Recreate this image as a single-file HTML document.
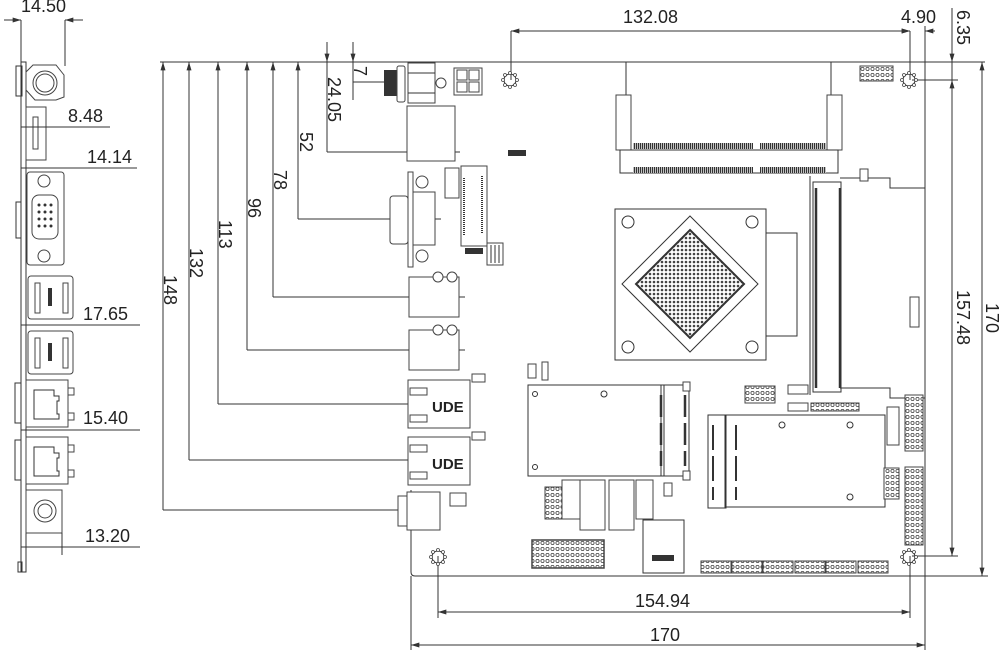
<!DOCTYPE html>
<html><head><meta charset="utf-8"><style>
html,body{margin:0;padding:0;background:#fff;}
svg{display:block;font-family:"Liberation Sans",sans-serif;}
.d{stroke:#333;stroke-width:1;fill:none}
.t{font-size:18px;fill:#222}
.c{stroke:#444;stroke-width:1;fill:#fff}
.k{fill:#333}
</style></head><body>
<svg width="999" height="652" viewBox="0 0 999 652" xmlns="http://www.w3.org/2000/svg">
<defs>
<marker id="a" viewBox="0 0 10 6" refX="10" refY="3" markerWidth="9" markerHeight="5" orient="auto-start-reverse"><path d="M0,0L10,3L0,6z" fill="#333"/></marker>
<pattern id="bga" width="4" height="4" patternUnits="userSpaceOnUse"><rect width="4" height="4" fill="#fff"/><circle cx="2" cy="2" r="1.3" fill="#444"/></pattern>
<pattern id="rail" width="2" height="6" patternUnits="userSpaceOnUse"><rect width="2" height="6" fill="#fff"/><rect width="1.3" height="6" fill="#333"/></pattern>
<pattern id="pins" width="5" height="6" patternUnits="userSpaceOnUse"><rect width="5" height="6" fill="#fff"/><circle cx="2.5" cy="3" r="1.6" fill="none" stroke="#444" stroke-width="0.8"/></pattern>
</defs>

<!-- ===== LEFT SIDE VIEW ===== -->
<rect x="21" y="62" width="5" height="510" class="d"/>
<rect x="18" y="562" width="4" height="10" class="d"/>
<line x1="21" y1="20" x2="21" y2="62" class="d"/><line x1="65" y1="20" x2="65" y2="66" class="d"/>
<line x1="4" y1="20" x2="21" y2="20" class="d" marker-end="url(#a)"/><line x1="83" y1="20" x2="65" y2="20" class="d" marker-end="url(#a)"/>
<text x="21" y="12" class="t">14.50</text>
<rect x="16" y="66" width="6" height="30" class="d"/>
<polygon points="33,65 56,65 64,75 64,97 56,100 35,100 26,90 26,72" class="c"/>
<circle cx="45" cy="83" r="12" class="c"/><circle cx="45" cy="83" r="9" class="c"/>
<rect x="26" y="107" width="20" height="53" class="c"/>
<rect x="33" y="117" width="5" height="32" class="c"/>
<line x1="21" y1="127" x2="110" y2="127" class="d"/>
<text x="68" y="122" class="t">8.48</text>
<line x1="21" y1="168" x2="137" y2="168" class="d"/>
<text x="87" y="163" class="t">14.14</text>
<rect x="27" y="172" width="37" height="93" rx="3" class="c"/>
<circle cx="44" cy="181" r="6" class="c"/><circle cx="44" cy="256" r="6" class="c"/>
<rect x="32" y="195" width="26" height="44" rx="7" class="c"/>
<g class="k"><circle cx="39" cy="205" r="1.5"/><circle cx="45" cy="205" r="1.5"/><circle cx="51" cy="205" r="1.5"/><circle cx="39" cy="212" r="1.5"/><circle cx="45" cy="212" r="1.5"/><circle cx="51" cy="212" r="1.5"/><circle cx="39" cy="219" r="1.5"/><circle cx="45" cy="219" r="1.5"/><circle cx="51" cy="219" r="1.5"/><circle cx="39" cy="226" r="1.5"/><circle cx="45" cy="226" r="1.5"/><circle cx="51" cy="226" r="1.5"/></g>
<rect x="16" y="202" width="5" height="36" class="d"/>
<rect x="28" y="276" width="45" height="43" rx="3" class="c" stroke-width="2"/>
<rect x="35" y="283" width="5" height="30" class="c"/><rect x="63" y="283" width="5" height="30" class="c"/>
<rect x="48" y="288" width="4" height="18" class="k"/>
<rect x="28" y="331" width="45" height="43" rx="3" class="c" stroke-width="2"/>
<rect x="35" y="338" width="5" height="30" class="c"/><rect x="63" y="338" width="5" height="30" class="c"/>
<rect x="48" y="343" width="4" height="18" class="k"/>
<line x1="21" y1="325" x2="140" y2="325" class="d"/>
<text x="83" y="320" class="t">17.65</text>
<rect x="26" y="380" width="42" height="47" class="c"/>
<path d="M34,390h20v6h5v5h-2v13h2v5h-25z" class="d"/>
<rect x="68" y="388" width="6" height="7" class="c"/><rect x="68" y="413" width="6" height="7" class="c"/>
<rect x="15" y="383" width="6" height="40" class="d"/>
<line x1="21" y1="430" x2="140" y2="430" class="d"/>
<text x="83" y="424" class="t">15.40</text>
<rect x="26" y="437" width="42" height="47" class="c"/>
<path d="M34,447h20v6h5v5h-2v13h2v5h-25z" class="d"/>
<rect x="68" y="445" width="6" height="7" class="c"/><rect x="68" y="470" width="6" height="7" class="c"/>
<rect x="15" y="440" width="6" height="40" class="d"/>
<rect x="26" y="490" width="36" height="43" class="c"/>
<circle cx="45" cy="511" r="11" class="c"/><circle cx="45" cy="511" r="7" class="c"/>
<line x1="62" y1="533" x2="62" y2="555" class="d"/>
<line x1="21" y1="547" x2="140" y2="547" class="d"/>
<text x="85" y="542" class="t">13.20</text>

<!-- ===== LEFT VERTICAL DIMENSIONS ===== -->
<line x1="160" y1="62" x2="411" y2="62" class="d"/>
<line x1="163" y1="510" x2="163" y2="62" class="d" marker-end="url(#a)"/><line x1="163" y1="510" x2="405" y2="510" class="d"/>
<line x1="189" y1="460" x2="189" y2="62" class="d" marker-end="url(#a)"/><line x1="189" y1="460" x2="465" y2="460" class="d"/>
<line x1="218" y1="404" x2="218" y2="62" class="d" marker-end="url(#a)"/><line x1="218" y1="404" x2="465" y2="404" class="d"/>
<line x1="247" y1="350" x2="247" y2="62" class="d" marker-end="url(#a)"/><line x1="247" y1="350" x2="465" y2="350" class="d"/>
<line x1="273" y1="297" x2="273" y2="62" class="d" marker-end="url(#a)"/><line x1="273" y1="297" x2="465" y2="297" class="d"/>
<line x1="298" y1="219" x2="298" y2="62" class="d" marker-end="url(#a)"/><line x1="298" y1="219" x2="441" y2="219" class="d"/>
<line x1="327" y1="42" x2="327" y2="152" class="d"/><line x1="327" y1="152" x2="460" y2="152" class="d"/>
<line x1="327" y1="45" x2="327" y2="62" class="d" marker-end="url(#a)"/>
<line x1="353" y1="42" x2="353" y2="100" class="d"/><line x1="353" y1="82" x2="400" y2="82" class="d"/>
<line x1="353" y1="45" x2="353" y2="62" class="d" marker-end="url(#a)"/>
<g class="t">
<text transform="translate(164,275) rotate(90)">148</text>
<text transform="translate(190,248) rotate(90)">132</text>
<text transform="translate(219,220) rotate(90)">113</text>
<text transform="translate(248,198) rotate(90)">96</text>
<text transform="translate(274,170) rotate(90)">78</text>
<text transform="translate(300,132) rotate(90)">52</text>
<text transform="translate(328,77) rotate(90)">24.05</text>
<text transform="translate(354,66) rotate(90)">7</text>
</g>

<!-- ===== BOARD ===== -->
<path d="M411,490 V572 Q411,576 415,576 H925 V62 H411" class="d"/>
<line x1="511" y1="31" x2="511" y2="80" class="d"/>
<line x1="511" y1="31" x2="910" y2="31" class="d" marker-start="url(#a)" marker-end="url(#a)"/>
<text x="623" y="23" class="t">132.08</text>
<line x1="910" y1="31" x2="910" y2="80" class="d"/><line x1="925" y1="26" x2="925" y2="62" class="d"/>
<line x1="898" y1="31" x2="910" y2="31" class="d" marker-end="url(#a)"/><line x1="935" y1="31" x2="925" y2="31" class="d" marker-end="url(#a)"/>
<text x="901" y="23" class="t">4.90</text>
<line x1="925" y1="62" x2="985" y2="62" class="d"/>
<line x1="952" y1="8" x2="952" y2="556" class="d"/>
<line x1="952" y1="45" x2="952" y2="62" class="d" marker-end="url(#a)"/>
<line x1="952" y1="95" x2="952" y2="80" class="d" marker-end="url(#a)"/>
<line x1="912" y1="80" x2="958" y2="80" class="d"/>
<line x1="952" y1="540" x2="952" y2="556" class="d" marker-end="url(#a)"/>
<line x1="912" y1="556" x2="958" y2="556" class="d"/>
<text transform="translate(957,10) rotate(90)" class="t">6.35</text>
<text transform="translate(957,290) rotate(90)" class="t">157.48</text>
<line x1="982" y1="62" x2="982" y2="576" class="d" marker-start="url(#a)" marker-end="url(#a)"/>
<line x1="925" y1="576" x2="988" y2="576" class="d"/>
<text transform="translate(986,303) rotate(90)" class="t">170</text>
<line x1="438" y1="556" x2="438" y2="618" class="d"/><line x1="910" y1="556" x2="910" y2="618" class="d"/>
<line x1="438" y1="612" x2="910" y2="612" class="d" marker-start="url(#a)" marker-end="url(#a)"/>
<text x="635" y="607" class="t">154.94</text>
<line x1="411" y1="576" x2="411" y2="650" class="d"/><line x1="925" y1="576" x2="925" y2="650" class="d"/>
<line x1="411" y1="645" x2="925" y2="645" class="d" marker-start="url(#a)" marker-end="url(#a)"/>
<text x="650" y="641" class="t">170</text>

<g class="d">
<circle cx="510" cy="80" r="6"/><circle cx="909" cy="80" r="6"/><circle cx="438" cy="557" r="6"/><circle cx="909" cy="557" r="6"/>
</g>
<g fill="#fff" stroke="#444" stroke-width="0.8">
<circle cx="510" cy="73" r="1.5"/><circle cx="510" cy="87" r="1.5"/><circle cx="503" cy="80" r="1.5"/><circle cx="517" cy="80" r="1.5"/><circle cx="505" cy="75" r="1.5"/><circle cx="515" cy="75" r="1.5"/><circle cx="505" cy="85" r="1.5"/><circle cx="515" cy="85" r="1.5"/>
<circle cx="909" cy="73" r="1.5"/><circle cx="909" cy="87" r="1.5"/><circle cx="902" cy="80" r="1.5"/><circle cx="916" cy="80" r="1.5"/><circle cx="904" cy="75" r="1.5"/><circle cx="914" cy="75" r="1.5"/><circle cx="904" cy="85" r="1.5"/><circle cx="914" cy="85" r="1.5"/>
<circle cx="438" cy="550" r="1.5"/><circle cx="438" cy="564" r="1.5"/><circle cx="431" cy="557" r="1.5"/><circle cx="445" cy="557" r="1.5"/><circle cx="433" cy="552" r="1.5"/><circle cx="443" cy="552" r="1.5"/><circle cx="433" cy="562" r="1.5"/><circle cx="443" cy="562" r="1.5"/>
<circle cx="909" cy="550" r="1.5"/><circle cx="909" cy="564" r="1.5"/><circle cx="902" cy="557" r="1.5"/><circle cx="916" cy="557" r="1.5"/><circle cx="904" cy="552" r="1.5"/><circle cx="914" cy="552" r="1.5"/><circle cx="904" cy="562" r="1.5"/><circle cx="914" cy="562" r="1.5"/>
</g>

<rect x="384" y="70" width="14" height="26" class="k"/>
<rect x="397" y="66" width="8" height="36" rx="2" class="c"/>
<rect x="408" y="63" width="27" height="40" class="c"/>
<line x1="408" y1="73" x2="435" y2="73" class="d"/><line x1="408" y1="93" x2="435" y2="93" class="d"/>
<circle cx="441" cy="83" r="5" class="c"/>
<rect x="454" y="68" width="28" height="27" class="c"/>
<rect x="457" y="70" width="10" height="10" class="c"/><rect x="469" y="70" width="10" height="10" class="c"/><rect x="457" y="82" width="10" height="10" class="c"/><rect x="469" y="82" width="10" height="10" class="c"/>
<rect x="407" y="106" width="48" height="55" class="c"/>
<rect x="408" y="172" width="5" height="95" class="c"/>
<circle cx="422" cy="182" r="6" class="c"/><circle cx="422" cy="256" r="6" class="c"/>
<rect x="390" y="196" width="18" height="48" rx="3" class="c"/>
<rect x="413" y="192" width="22" height="53" class="c"/>
<rect x="445" y="168" width="14" height="30" class="c"/>
<rect x="461" y="166" width="26" height="80" class="c"/>
<line x1="464" y1="178" x2="464" y2="236" stroke="#333" stroke-width="2" stroke-dasharray="1 1"/>
<line x1="482" y1="176" x2="482" y2="234" stroke="#333" stroke-width="2" stroke-dasharray="1 1"/>
<rect x="508" y="150" width="18" height="6" class="k"/>
<rect x="465" y="248" width="18" height="6" class="k"/>
<rect x="487" y="243" width="16" height="22" class="c"/>
<line x1="491" y1="245" x2="491" y2="263" class="d"/><line x1="495" y1="245" x2="495" y2="263" class="d"/><line x1="499" y1="245" x2="499" y2="263" class="d"/>
<rect x="409" y="277" width="50" height="40" class="c"/>
<circle cx="438" cy="277" r="5" class="c"/><circle cx="452" cy="277" r="5" class="c"/>
<rect x="409" y="330" width="50" height="40" class="c"/>
<circle cx="438" cy="330" r="5" class="c"/><circle cx="452" cy="330" r="5" class="c"/>
<rect x="408" y="380" width="62" height="48" class="c"/>
<rect x="410" y="388" width="17" height="7" class="c"/><rect x="410" y="415" width="17" height="7" class="c"/>
<text x="432" y="412" style="font-size:15px;font-weight:bold" fill="#222">UDE</text>
<rect x="408" y="437" width="62" height="48" class="c"/>
<rect x="410" y="445" width="17" height="7" class="c"/><rect x="410" y="472" width="17" height="7" class="c"/>
<text x="432" y="469" style="font-size:15px;font-weight:bold" fill="#222">UDE</text>
<rect x="472" y="374" width="13" height="8" class="c"/><rect x="472" y="432" width="13" height="8" class="c"/>
<rect x="398" y="496" width="10" height="30" class="c"/>
<rect x="407" y="492" width="33" height="38" class="c"/>
<rect x="450" y="493" width="16" height="13" class="c"/>

<line x1="626" y1="62" x2="626" y2="95" class="d"/><line x1="831" y1="62" x2="831" y2="95" class="d"/>
<rect x="616" y="95" width="15" height="55" class="c"/><rect x="827" y="95" width="15" height="55" class="c"/>
<path d="M620,150 H838 V173 H620 Z" class="d"/>
<rect x="633" y="143" width="120" height="6" fill="url(#rail)"/><rect x="760" y="143" width="66" height="6" fill="url(#rail)"/>
<rect x="633" y="167" width="120" height="6" fill="url(#rail)"/><rect x="760" y="167" width="66" height="6" fill="url(#rail)"/>
<rect x="860" y="66" width="33" height="15" fill="url(#pins)" stroke="#444"/>
<rect x="615" y="209" width="151" height="151" class="d"/>
<rect x="766" y="233" width="31" height="103" class="d"/>
<circle cx="628" cy="222" r="6" class="d"/><circle cx="752" cy="222" r="6" class="d"/><circle cx="628" cy="347" r="6" class="d"/><circle cx="752" cy="347" r="6" class="d"/>
<polygon points="690,216 758,284 690,352 622,284" class="d"/>
<polygon points="690,230 744,284 690,338 636,284" fill="url(#bga)" stroke="#333" stroke-width="2"/>
<line x1="810" y1="176" x2="810" y2="395" class="d"/>
<rect x="813" y="182" width="28" height="210" class="d"/>
<line x1="816" y1="188" x2="816" y2="388" stroke="#333" stroke-width="2.5"/>
<line x1="840" y1="188" x2="840" y2="388" stroke="#333" stroke-width="2.5"/>
<path d="M840,178 H890 V188 H925" class="d"/><path d="M840,388 H890 V398 H925" class="d"/>
<rect x="860" y="169" width="8" height="12" class="c"/>
<rect x="910" y="297" width="9" height="30" class="c"/>
<rect x="528" y="364" width="8" height="14" class="c"/><rect x="542" y="362" width="6" height="18" class="c"/>
<rect x="528" y="385" width="136" height="91" class="d"/>
<circle cx="535" cy="394" r="2.5" class="d"/><circle cx="535" cy="467" r="2.5" class="d"/><circle cx="604" cy="394" r="3" class="d"/>
<rect x="661" y="385" width="28" height="91" class="d"/>
<line x1="661" y1="395" x2="661" y2="466" stroke="#333" stroke-width="2.5" stroke-dasharray="22 6"/>
<line x1="685" y1="395" x2="685" y2="466" stroke="#333" stroke-width="2.5" stroke-dasharray="22 6"/>
<rect x="683" y="382" width="7" height="9" class="c"/><rect x="683" y="471" width="7" height="9" class="c"/>
<rect x="745" y="386" width="30" height="17" fill="url(#pins)" stroke="#444"/>
<rect x="788" y="385" width="20" height="9" class="c"/><rect x="788" y="403" width="20" height="8" class="c"/>
<rect x="811" y="403" width="48" height="8" fill="url(#pins)" stroke="#444"/>
<rect x="708" y="415" width="18" height="93" class="d"/>
<rect x="725" y="415" width="160" height="92" class="d"/>
<circle cx="782" cy="425" r="3" class="d"/><circle cx="850" cy="425" r="3" class="d"/><circle cx="850" cy="497" r="3" class="d"/>
<line x1="713" y1="425" x2="713" y2="500" stroke="#333" stroke-width="2" stroke-dasharray="25 6"/>
<line x1="736" y1="425" x2="736" y2="500" stroke="#333" stroke-width="2" stroke-dasharray="25 6"/>
<rect x="887" y="407" width="12" height="38" class="c"/>
<rect x="905" y="395" width="18" height="56" fill="url(#pins)" stroke="#444"/>
<rect x="884" y="468" width="15" height="31" fill="url(#pins)" stroke="#444"/>
<rect x="905" y="467" width="18" height="78" fill="url(#pins)" stroke="#444"/>
<rect x="545" y="487" width="22" height="32" fill="url(#pins)" stroke="#444"/>
<rect x="562" y="480" width="18" height="39" class="c"/><rect x="580" y="480" width="25" height="50" class="c"/>
<rect x="609" y="480" width="25" height="50" class="c"/><rect x="636" y="480" width="17" height="39" class="c"/>
<rect x="664" y="483" width="8" height="13" class="c"/>
<rect x="532" y="540" width="72" height="28" fill="url(#pins)" stroke="#444" stroke-width="1.5"/>
<rect x="643" y="520" width="41" height="53" class="d"/>
<rect x="652" y="555" width="22" height="6" class="k"/>
<g fill="url(#pins)" stroke="#444">
<rect x="701" y="561" width="30" height="12"/><rect x="732" y="561" width="30" height="12"/><rect x="763" y="561" width="30" height="12"/><rect x="795" y="561" width="30" height="12"/><rect x="826" y="561" width="30" height="12"/><rect x="858" y="561" width="30" height="12"/>
</g>
</svg>
</body></html>
